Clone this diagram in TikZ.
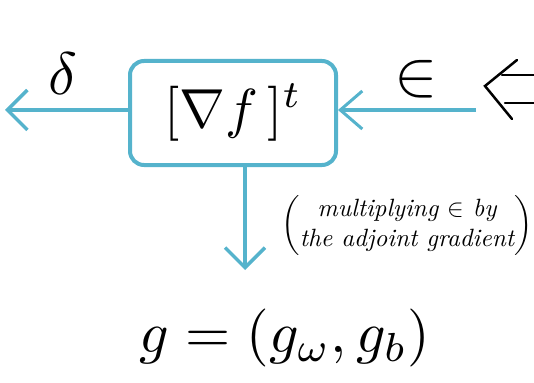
\documentclass[tikz,border=0pt]{standalone}
\usepackage{amsmath}
\usetikzlibrary{arrows.meta,positioning}
\definecolor{pennarello}{HTML}{55B3CC}
\tikzset{
  blocco/.style={draw=pennarello, line width=4pt, rounded corners=14pt,
    minimum width=206pt, minimum height=104pt, inner sep=0pt},
  freccia/.style={pennarello, line width=4pt,
    -{Straight Barb[length=20pt,width=40pt,line width=3.5pt]}},
  freccina/.style={pennarello, line width=4pt,
    -{Straight Barb[length=22pt,width=38pt,line width=3pt]}},
  doppia/.style={black, line width=2.5pt, line cap=round}
}
\begin{document}
\begin{tikzpicture}[x=1pt,y=-1pt]
  \useasboundingbox (0,0) rectangle (534,382);
  % Blocco centrale
  \node[blocco] (grad) at (233,113) {\scalebox{5.5}{$[\nabla f\,]^{t}$}};
  % Uscita a sinistra
  \coordinate (sx) at (5,110);
  \draw[freccia] (grad.west |- sx) -- (sx);
  \node (delta) at (63,74) {\scalebox{6}{$\delta$}};
  % Ingresso da destra
  \coordinate (dx) at (476,110);
  \draw[freccina] (dx) -- (grad.east |- dx);
  \node (eps) at (416,79) {\scalebox{6.5}{$\in$}};
  % Doppia freccia aperta
  \coordinate (punta) at (485,86);
  \draw[doppia] (517,60) -- (punta) -- (512,119);
  \draw[doppia] (502,75) -- (536,75);
  \draw[doppia] (505,103) -- (536,103);
  % Uscita in basso
  \coordinate (giu) at (245,270);
  \draw[freccia] (grad.south -| giu) -- (giu);
  \node (nota) at (407,225) {\scalebox{2.5}{$\left(\text{\itshape\begin{tabular}{@{}c@{}}multiplying $\in$ by\\the adjoint gradient\end{tabular}}\right)$}};
  % Risultato
  \node (g) at (285,338) {\scalebox{5.8}{$g=(g_{\omega},g_{b})$}};
\end{tikzpicture}
\end{document}
